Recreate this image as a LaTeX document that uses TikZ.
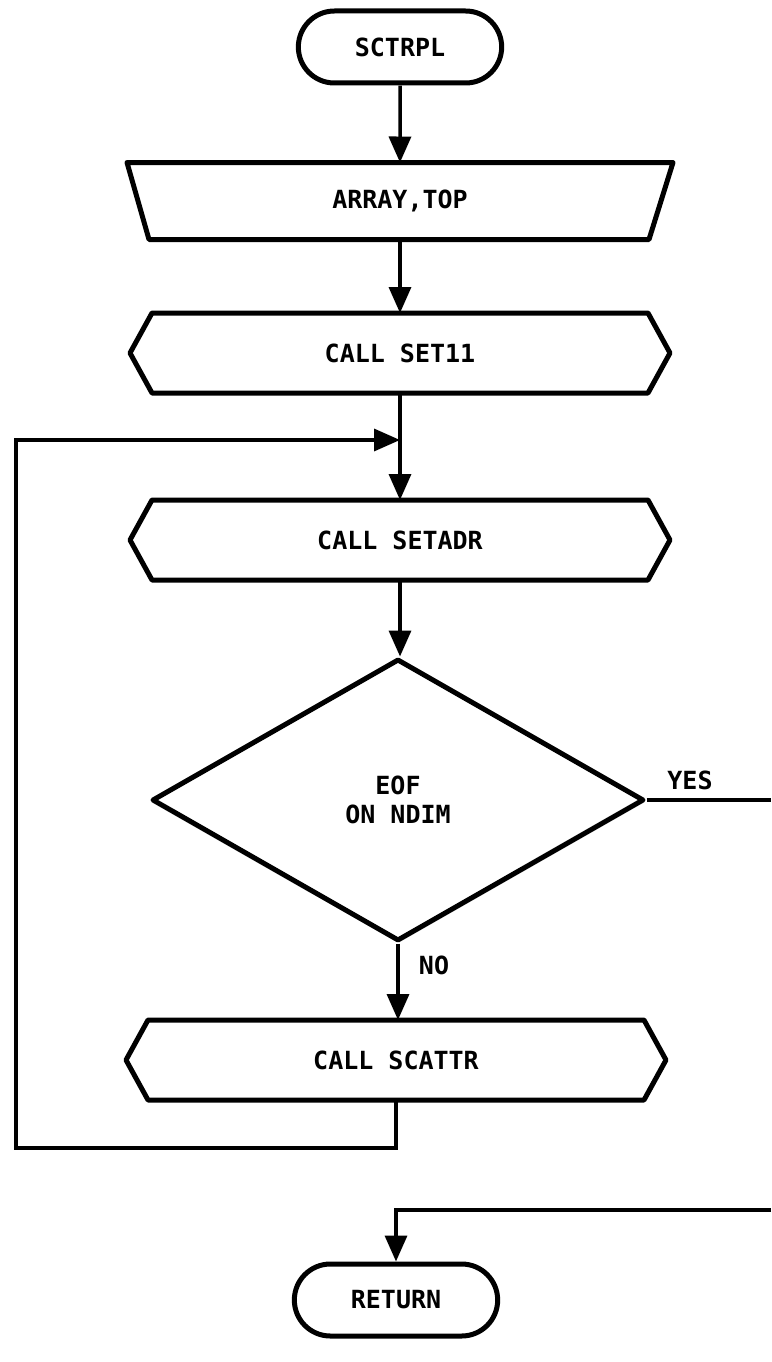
\documentclass[tikz,border=0pt]{standalone}
\usepackage{fontspec}
\newfontfamily\flowfont{DejaVu Sans Mono}
\usetikzlibrary{positioning}
\usetikzlibrary{shapes.geometric}
\usetikzlibrary{shapes.misc}
\usetikzlibrary{arrows.meta}

\tikzset{
	shapeline/.style={line width=5pt, line join=round},
	conn/.style={line width=3.5pt},
	flow/.style={conn, -{Triangle[width=22pt,length=26pt]}},
	txt/.style={font=\flowfont\bfseries\fontsize{25}{29}\selectfont},
	term/.style={rounded rectangle, draw, shapeline, minimum width=210pt, minimum height=72pt, txt},
	box/.style={rectangle, inner sep=0pt, outer sep=0pt, minimum width=540pt, minimum height=80pt, txt},
	decision/.style={diamond, draw, shapeline, minimum width=492pt, minimum height=282pt, inner sep=0pt, align=center, txt}
}

% outline of an input box (wide at the top)
\newcommand{\inoutline}[1]{\draw [shapeline] (#1.north west) -- (#1.north east) -- ([xshift=-24pt]#1.south east) -- ([xshift=22pt]#1.south west) -- cycle;}
% outline of a call box (pointed at both ends)
\newcommand{\calloutline}[1]{\draw [shapeline] ([xshift=22pt]#1.north west) -- ([xshift=-22pt]#1.north east) -- (#1.east) -- ([xshift=-22pt]#1.south east) -- ([xshift=22pt]#1.south west) -- (#1.west) -- cycle;}

\begin{document}
\begin{tikzpicture}[x=1pt, y=-1pt]
	\useasboundingbox (0,0) rectangle (771,1362);

	% Entry, input and first call
	\node [term] at (400,47) (sctrpl) {SCTRPL};
	\node [box, minimum width=546pt, minimum height=77pt] at (400,201) (arrayin) {ARRAY,TOP};
	\inoutline{arrayin}
	\node [box] at (400,353) (set11) {CALL SET11};
	\calloutline{set11}

	% Loop body
	\coordinate (loopjoin) at (400,440);
	\node [box] at (400,540) (setadr) {CALL SETADR};
	\calloutline{setadr}
	\node [decision] at (398,800) (eof) {EOF\\ON NDIM};
	\node [txt] at (690,780) (yes) {YES};
	\node [txt] at (434,965) (no) {NO};
	\node [box] at (396,1060) (scattr) {CALL SCATTR};
	\calloutline{scattr}
	\coordinate (loopcorner) at (16,1148);

	% Exit
	\coordinate (yesend) at (771,800);
	\coordinate (retstart) at (771,1210);
	\node [term] at (396,1300) (retn) {RETURN};

	% Connections
	\draw [flow] (sctrpl) -- (arrayin);
	\draw [flow] (arrayin) -- (set11);
	\draw [flow] (set11.south) -- (setadr.north);
	\draw [flow] (setadr.south) -- (setadr.south |- eof.north);
	\draw [flow] (eof.south) -- (eof.south |- scattr.north);
	\draw [flow] (scattr.south) |- (loopcorner) |- (loopjoin);
	\draw [conn] (eof.east) -- (yesend);
	\draw [flow] (retstart) -| (retn.north);

\end{tikzpicture}
\end{document}
